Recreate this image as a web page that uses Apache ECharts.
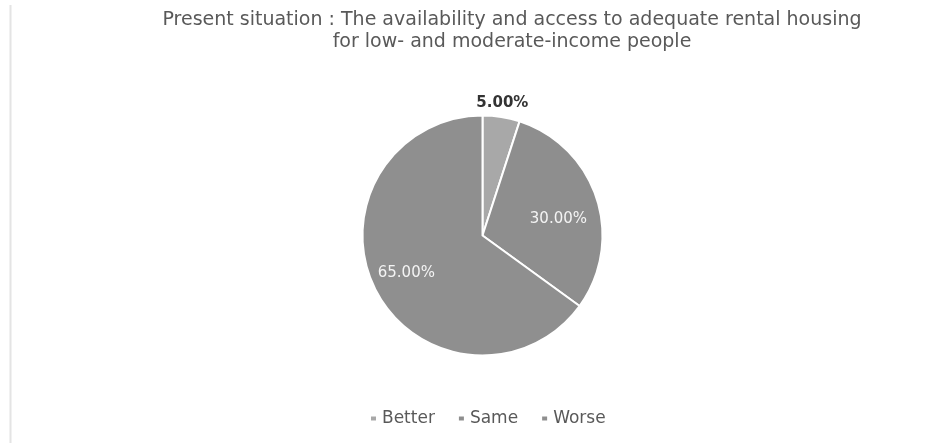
<!DOCTYPE html>
<html>
<head>
<meta charset="utf-8">
<script src="https://cdn.jsdelivr.net/npm/echarts@6/dist/echarts.min.js"></script>
<style>
  html, body { margin: 0; padding: 0; background: #ffffff; }
  #chart { width: 944px; height: 443px; }
</style>
</head>
<body>
<div id="chart"></div>
<script>
// Survey answers and their shares (percent)
const categories = ['Better', 'Same', 'Worse'];
const shares = [5.00, 30.00, 65.00];
const sliceColors = ['#a8a8a8', '#8e8e8e', '#8f8f8f'];

const titleText = 'Present situation : The availability and access to adequate rental housing\nfor low- and moderate-income people';

// Per-slice label styling: the small slice is labelled above the pie, the others inside
const labelStyles = [
  { color: '#333333', fontWeight: 'bold', offset: [10, -70] },
  { color: '#f4f4f4', fontWeight: 'normal', offset: [16, 3] },
  { color: '#f4f4f4', fontWeight: 'normal', offset: [-20, 9] }
];

const font = '"DejaVu Sans", sans-serif';

const pieData = categories.map((name, i) => ({
  name: name,
  value: shares[i],
  itemStyle: { color: sliceColors[i] },
  label: labelStyles[i]
}));

const chart = echarts.init(document.getElementById('chart'), null, { renderer: 'canvas' });
chart.setOption({
  backgroundColor: '#ffffff',
  animation: false,
  title: {
    text: titleText,
    left: 507,
    textAlign: 'center',
    top: 4,
    textStyle: {
      fontFamily: font,
      fontSize: 19,
      fontWeight: 'normal',
      color: '#595959',
      lineHeight: 22
    }
  },
  legend: {
    data: categories,
    bottom: 11,
    left: 364,
    icon: 'rect',
    itemWidth: 7,
    itemHeight: 6,
    itemGap: 22,
    textStyle: { fontFamily: font, fontSize: 17, color: '#595959' }
  },
  graphic: [{
    type: 'line',
    shape: { x1: 10.5, y1: 5, x2: 10.5, y2: 443 },
    style: { stroke: '#e4e4e4', lineWidth: 2 },
    silent: true
  }],
  series: [{
    type: 'pie',
    center: [482.5, 235.5],
    radius: [0, 120],
    startAngle: 90,
    clockwise: true,
    avoidLabelOverlap: false,
    itemStyle: { borderColor: '#ffffff', borderWidth: 2 },
    label: {
      show: true,
      position: 'inside',
      fontFamily: font,
      fontSize: 15,
      formatter: p => p.value.toFixed(2) + '%'
    },
    labelLine: { show: false },
    emphasis: { disabled: true },
    data: pieData
  }]
});
</script>
</body>
</html>
